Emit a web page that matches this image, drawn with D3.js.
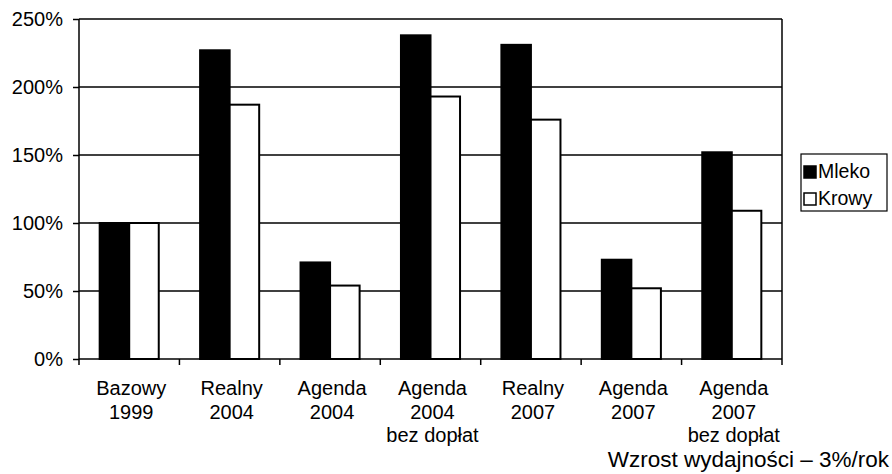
<!DOCTYPE html>
<html>
<head>
<meta charset="utf-8">
<script src="https://cdn.jsdelivr.net/npm/d3@7"></script>
<style>
  body { margin: 0; background: #fff; }
  svg { display: block; font-family: "Liberation Sans", Arial, sans-serif; }
</style>
</head>
<body>
<svg id="chart" width="892" height="474"></svg>
<script>
// categories (each one is a list of label lines)
const categories = [
    ["Bazowy", "1999"],
    ["Realny", "2004"],
    ["Agenda", "2004"],
    ["Agenda", "2004", "bez dopłat"],
    ["Realny", "2007"],
    ["Agenda", "2007"],
    ["Agenda", "2007", "bez dopłat"]
];
const seriesNames = ["Mleko", "Krowy"];
const mleko = [100, 227, 71, 238, 231, 73, 152];
const krowy = [100, 187, 54, 193, 176, 52, 109];
const yTicks = [0, 50, 100, 150, 200, 250];
const footnote = "Wzrost wydajności – 3%/rok";

const svg = d3.select("#chart");
const plotLeft = 79, plotRight = 782, plotTop = 19, plotBottom = 359;

const x0 = d3.scaleBand()
    .domain(d3.range(categories.length))
    .range([plotLeft, plotRight])
    .paddingInner(0).paddingOuter(0);

const x1 = d3.scaleBand()
    .domain(seriesNames)
    .range([0, x0.bandwidth()])
    .paddingInner(0).paddingOuter(0.7);

const y = d3.scaleLinear().domain([0, 250]).range([plotBottom, plotTop]);

// gridlines
svg.append("g")
    .selectAll("line")
    .data(yTicks.filter(d => d > 0))
    .enter().append("line")
    .attr("x1", plotLeft).attr("x2", plotRight)
    .attr("y1", d => y(d)).attr("y2", d => y(d))
    .attr("stroke", "#000").attr("stroke-width", 1.5);

// right border of the plot area
svg.append("line")
    .attr("x1", plotRight).attr("x2", plotRight)
    .attr("y1", plotTop).attr("y2", plotBottom)
    .attr("stroke", "#000").attr("stroke-width", 1.5);

// bars
const values = { "Mleko": mleko, "Krowy": krowy };
const groups = svg.append("g").selectAll("g")
    .data(categories.map((c, i) => i))
    .enter().append("g")
    .attr("transform", i => `translate(${x0(i)},0)`);

groups.selectAll("rect")
    .data(i => seriesNames.map(s => ({ s, v: values[s][i] })))
    .enter().append("rect")
    .attr("x", d => x1(d.s))
    .attr("width", x1.bandwidth())
    .attr("y", d => y(d.v))
    .attr("height", d => y(0) - y(d.v))
    .attr("fill", d => d.s === "Mleko" ? "#000" : "#fff")
    .attr("stroke", "#000")
    .attr("stroke-width", 2);

// y axis
const yAxis = svg.append("g")
    .attr("transform", `translate(${plotLeft},0)`)
    .call(d3.axisLeft(y).tickValues(yTicks).tickFormat(d => d + "%").tickSize(6).tickPadding(10));
yAxis.select(".domain").attr("stroke-width", 1.5).attr("d", `M0,${plotTop}V${plotBottom}`);
yAxis.selectAll(".tick line").attr("stroke-width", 1.5);
yAxis.selectAll("text")
    .attr("font-size", 20)
    .attr("font-family", "Liberation Sans, Arial, sans-serif")
    .attr("fill", "#000");

// x axis with ticks at category boundaries
svg.append("line")
    .attr("x1", plotLeft).attr("x2", plotRight)
    .attr("y1", plotBottom).attr("y2", plotBottom)
    .attr("stroke", "#000").attr("stroke-width", 1.5);
svg.append("g").selectAll("line")
    .data(d3.range(categories.length + 1))
    .enter().append("line")
    .attr("x1", i => plotLeft + i * x0.step()).attr("x2", i => plotLeft + i * x0.step())
    .attr("y1", plotBottom).attr("y2", plotBottom + 6)
    .attr("stroke", "#000").attr("stroke-width", 1.5);

const labels = svg.append("g").selectAll("text")
    .data(categories)
    .enter().append("text")
    .attr("text-anchor", "middle")
    .attr("font-size", 20)
    .attr("fill", "#000");
labels.each(function(lines, i) {
    d3.select(this).selectAll("tspan")
        .data(lines)
        .enter().append("tspan")
        .attr("x", x0(i) + x0.bandwidth() / 2 + 2)
        .attr("y", (d, j) => 395 + j * 23.5)
        .text(d => d);
});

svg.append("text")
    .attr("x", 889).attr("y", 467)
    .attr("text-anchor", "end")
    .attr("font-size", 22.5)
    .attr("fill", "#000")
    .text(footnote);

// legend
const legend = svg.append("g").attr("transform", "translate(801,154)");
legend.append("rect")
    .attr("width", 86).attr("height", 57)
    .attr("fill", "#fff").attr("stroke", "#000").attr("stroke-width", 1.2);
const items = legend.selectAll("g.item")
    .data(seriesNames)
    .enter().append("g")
    .attr("class", "item")
    .attr("transform", (d, i) => `translate(0,${i * 27})`);
items.append("rect")
    .attr("x", 3).attr("y", 12).attr("width", 12).attr("height", 12)
    .attr("fill", d => d === "Mleko" ? "#000" : "#fff")
    .attr("stroke", "#000").attr("stroke-width", 1.5);
items.append("text")
    .attr("x", 17).attr("y", 24)
    .attr("font-size", 19.5)
    .attr("fill", "#000")
    .text(d => d);
</script>
</body>
</html>
